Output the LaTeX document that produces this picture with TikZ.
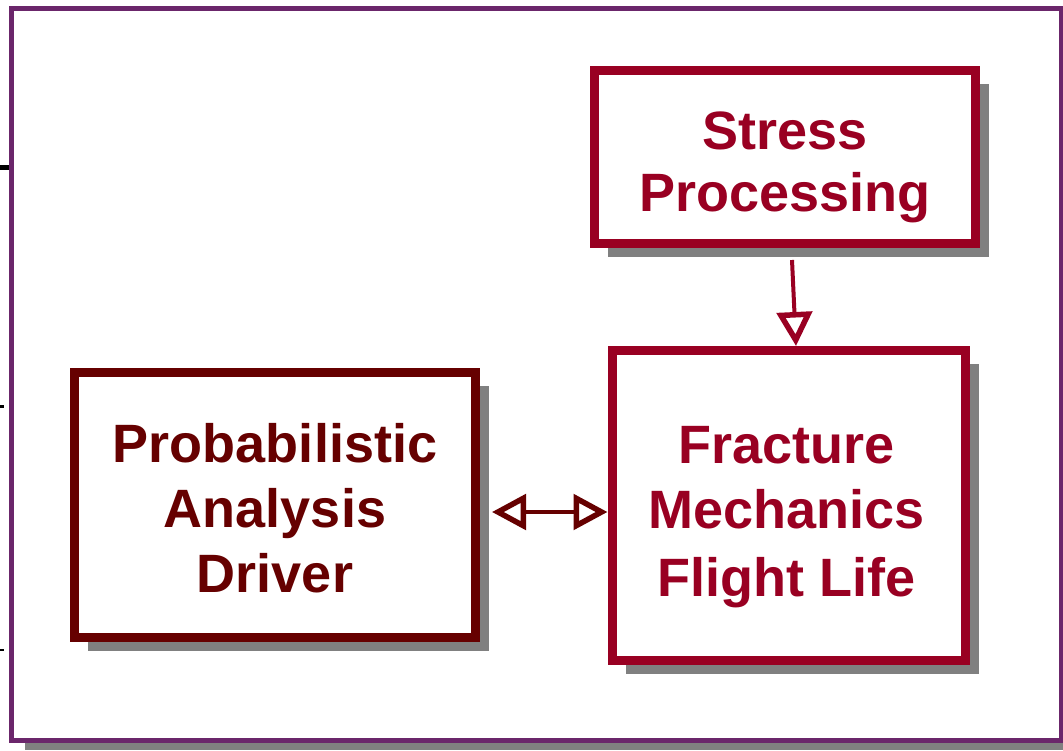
\documentclass[tikz,border=0pt]{standalone}
\usepackage{fontspec}
\setmainfont{Liberation Sans}
\usetikzlibrary{arrows.meta,calc,backgrounds}
\definecolor{framepurple}{RGB}{107,38,107}
\definecolor{redbox}{RGB}{153,0,34}
\definecolor{darkbox}{RGB}{102,0,0}
\definecolor{shadowgray}{RGB}{128,128,128}
\tikzset{
  box/.style={draw, fill=white, line width=9pt, inner sep=0pt},
  boxtext/.style={align=center, inner sep=0pt, font=\fontsize{54}{65}\selectfont\bfseries},
  redstyle/.style={box, draw=redbox},
  darkstyle/.style={box, draw=darkbox},
  openhead/.tip={Triangle[open,length=34pt,width=35pt,line width=5.5pt]},
  connector/.style={line width=4pt},
}
\begin{document}
\begin{tikzpicture}[x=1pt,y=-1pt]
\useasboundingbox (0,0) rectangle (1063,750);
% boxes
\node[redstyle, minimum width=381pt, minimum height=173pt] (stress) at (785,157) {};
\node[darkstyle, minimum width=401pt, minimum height=265pt] (prob) at (275,505) {};
\node[redstyle, minimum width=353pt, minimum height=310pt] (frac) at (788.5,505.5) {};
% texts
\node[boxtext, text=redbox, font=\fontsize{54}{62}\selectfont\bfseries] (stresstext) at ($(stress)+(0,10)$) {Stress\\Processing};
\node[boxtext, text=darkbox] (probtext) at ($(prob)+(0,3)$) {Probabilistic\\Analysis\\Driver};
\node[boxtext, text=redbox] (fractext) at ($(frac)+(-2,12)$) {Fracture\\Mechanics\\[3pt]Flight Life};
% connectors
\coordinate (stressout) at ($(stress.south)+(7,12)$);
\coordinate (fracin) at (796,346);
\draw[connector, draw=redbox, -openhead] (stressout) -- (fracin);
\coordinate (probout) at ($(prob.east)+(12,7)$);
\coordinate (fracleft) at ($(frac.west)+(0,6.5)$);
\draw[connector, draw=darkbox, openhead-openhead] (probout) -- (fracleft);
\begin{pgfonlayer}{background}
  \fill[white] (0,0) rectangle (1063,750);
  \fill[shadowgray] (25,743) rectangle (1063,750);
  \draw[framepurple, line width=5pt] (11.5,8.5) rectangle (1061,740.5);
  \draw[black, line width=5pt] (0,167) -- (9,167);
  \draw[black, line width=3pt] (0,406.5) -- (3.5,406.5);
  \draw[black, line width=2pt] (0,649.5) -- (3.5,649.5);
  \fill[shadowgray] ($(stress.north west)+(18,18)$) rectangle ($(stress.south east)+(9,9)$);
  \fill[shadowgray] ($(prob.north west)+(18,18)$) rectangle ($(prob.south east)+(9,9)$);
  \fill[shadowgray] ($(frac.north west)+(18,18)$) rectangle ($(frac.south east)+(9,9)$);
\end{pgfonlayer}
\end{tikzpicture}
\end{document}
